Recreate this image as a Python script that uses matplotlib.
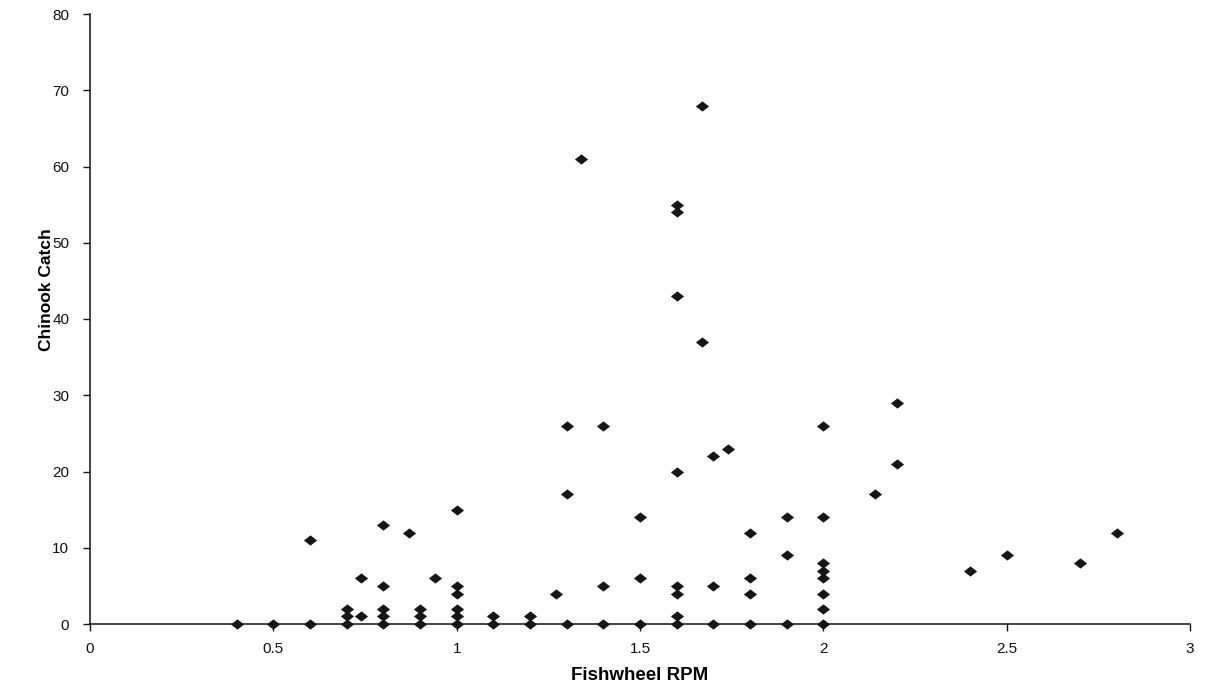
import matplotlib
matplotlib.use("Agg")
import matplotlib.pyplot as plt
from matplotlib.path import Path

# RPM groups and the chinook catches observed at each
rpm_levels = [0.4, 0.5, 0.6, 0.7, 0.74, 0.8, 0.87, 0.9, 0.94, 1.0, 1.1, 1.2,
              1.27, 1.3, 1.34, 1.4, 1.5, 1.6, 1.67, 1.7, 1.74, 1.8, 1.9, 2.0,
              2.14, 2.2, 2.4, 2.5, 2.7, 2.8]
catches = [
    [0], [0], [0, 11], [0, 1, 2], [1, 6], [0, 1, 2, 5, 13], [12], [0, 1, 2],
    [6], [0, 1, 2, 4, 5, 15], [0, 1], [0, 1], [4], [0, 17, 26], [61],
    [0, 5, 26], [0, 6, 14], [0, 1, 4, 5, 20, 43, 54, 55], [37, 68],
    [0, 5, 22], [23], [0, 4, 6, 12], [0, 9, 14], [0, 2, 4, 6, 7, 8, 14, 26],
    [17], [21, 29], [7], [9], [8], [12],
]
x_ticks = [0, 0.5, 1, 1.5, 2, 2.5, 3]
x_tick_labels = ["0", "0.5", "1", "1.5", "2", "2.5", "3"]
y_ticks = [0, 10, 20, 30, 40, 50, 60, 70, 80]

rpm = [r for r, cs in zip(rpm_levels, catches) for _ in cs]
catch = [c for cs in catches for c in cs]

plt.rcParams['font.family'] = ['Liberation Sans', 'DejaVu Sans']

fig = plt.figure(figsize=(12.05, 6.92), dpi=100)
ax = fig.add_axes([90 / 1205, 68 / 692, 1100 / 1205, 610 / 692])

diamond = Path([(-1, 0), (0, 0.78), (1, 0), (0, -0.78), (-1, 0)],
               [Path.MOVETO, Path.LINETO, Path.LINETO, Path.LINETO, Path.CLOSEPOLY])
ax.scatter(rpm, catch, marker=diamond, s=90, color="#161616", linewidths=0,
           zorder=3, clip_on=False)

ax.set_xlim(0, 3)
ax.set_ylim(0, 80)
ax.set_xticks(x_ticks)
ax.set_xticklabels(x_tick_labels)
ax.set_yticks(y_ticks)

for s in ["top", "right"]:
    ax.spines[s].set_visible(False)
for s in ["left", "bottom"]:
    ax.spines[s].set_color("#111111")
    ax.spines[s].set_linewidth(1.1)

ax.tick_params(axis="both", direction="out", length=5, width=1,
               colors="#111111", labelsize=11)
ax.tick_params(axis="x", pad=8)
ax.tick_params(axis="y", pad=10)

ax.set_xlabel("Fishwheel RPM", fontsize=13.5, fontweight="bold", labelpad=8)
ax.set_ylabel("Chinook Catch", fontsize=12.5, fontweight="bold")
ax.yaxis.set_label_coords(-0.033, 0.548)

fig.savefig("out.png", dpi=100)
